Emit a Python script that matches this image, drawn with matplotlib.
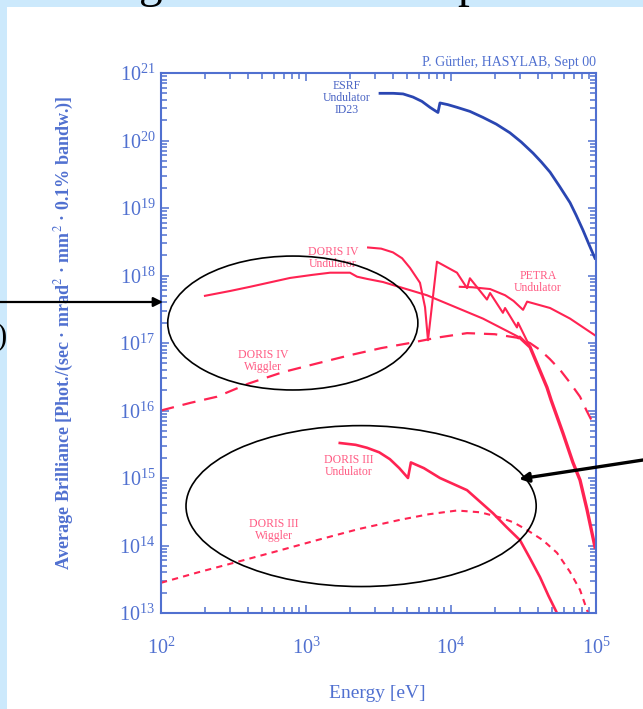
import numpy as np
import matplotlib
matplotlib.use("Agg")
import matplotlib.pyplot as plt
from matplotlib.patches import Ellipse, Rectangle
from matplotlib.ticker import LogLocator, LogFormatterMathtext, NullFormatter

# values (energy in eV, brilliance)
esrf_e = [3240, 4000, 4670, 5470, 6300, 7160, 7700, 8130, 8390, 9500, 11000, 13500, 16600,
          20500, 25500, 30500, 36800, 42000, 48200, 56000, 66200, 73000, 81300, 90000, 98400]
esrf_b = [5.0e20, 5.0e20, 4.9e20, 4.4e20, 3.8e20, 3.1e20, 2.8e20, 2.6e20, 3.6e20, 3.4e20, 3.1e20,
          2.7e20, 2.2e20, 1.75e20, 1.3e20, 9.5e19, 6.5e19, 4.8e19, 3.4e19, 2.1e19, 1.2e19,
          7.8e18, 4.7e18, 2.8e18, 1.8e18]

d4u_e = [201, 300, 411, 776, 1100, 1466, 2010, 2250, 2640, 3400, 6820, 16600, 29900]
d4u_b = [5.0e17, 5.9e17, 6.8e17, 9.2e17, 1.02e18, 1.1e18, 1.1e18, 9.6e17, 8.9e17, 8.0e17,
         5.1e17, 2.3e17, 1.2e17]

d4u_tail_e = [29900, 35100, 45900, 49000, 59200, 69300, 77600, 86700, 98400]
d4u_tail_b = [1.2e17, 8.7e16, 2.2e16, 1.43e16, 4.6e15, 1.7e15, 9.3e14, 3.4e14, 9.5e13]

d4h_e = [2680, 3300, 3980, 4600, 5210, 6110, 6620, 6940, 8000, 11000, 12900, 13500, 17700,
         18600, 22800, 23600, 28500, 29000, 35100]
d4h_b = [2.6e18, 2.5e18, 2.2e18, 1.8e18, 1.3e18, 7.8e17, 3.4e17, 1.1e17, 1.6e18, 1.1e18,
         6.5e17, 9.1e17, 4.4e17, 5.5e17, 2.8e17, 3.3e17, 1.7e17, 2.0e17, 8.7e16]

petra_e = [11500, 14000, 18600, 23600, 27000, 31400, 33500, 48200, 66200, 98400]
petra_b = [6.8e17, 6.7e17, 6.3e17, 5.1e17, 4.2e17, 3.1e17, 4.1e17, 3.3e17, 2.3e17, 1.3e17]

d4w_e = [100, 160, 243, 400, 693, 1200, 2010, 3300, 5210, 8000, 12900, 20000, 28500, 35000,
         41100, 48000, 56500, 66000, 77600, 86000, 95300]
d4w_b = [1.0e16, 1.3e16, 1.6e16, 2.5e16, 3.7e16, 5.0e16, 6.6e16, 8.4e16, 1.0e17, 1.2e17,
         1.4e17, 1.35e17, 1.2e17, 1.0e17, 7.9e16, 5.8e16, 4.0e16, 2.6e16, 1.6e16, 1.0e16, 6.5e15]

d3u_e = [1710, 2200, 2640, 3200, 3790, 4400, 5050, 5290, 6500, 8390, 12900, 19500, 24000,
         29900, 35000, 41100, 47000, 53800]
d3u_b = [3.3e15, 3.1e15, 2.8e15, 2.4e15, 1.9e15, 1.4e15, 1.0e15, 1.7e15, 1.4e15, 1.0e15,
         6.6e14, 3.0e14, 1.9e14, 1.2e14, 6.5e13, 3.4e13, 1.8e13, 1.0e13]

d3w_e = [100, 180, 314, 600, 1190, 2300, 4450, 7000, 11000, 16000, 21800, 27000, 33400,
         43000, 53800, 66000, 77600, 88100]
d3w_b = [2.8e13, 4.0e13, 5.5e13, 8.0e13, 1.2e14, 1.75e14, 2.4e14, 2.9e14, 3.3e14, 3.1e14,
         2.6e14, 2.2e14, 1.7e14, 1.2e14, 7.8e13, 4.1e13, 2.2e13, 1.0e13]

labels = ["ESRF\nUndulator\nID23", "DORIS IV\nUndulator", "PETRA\nUndulator",
          "DORIS IV\nWiggler", "DORIS III\nUndulator", "DORIS III\nWiggler"]
label_e = [1920, 1535, 39800, 505, 1980, 601]
label_b = [4.3e20, 1.8e18, 8.0e17, 5.4e16, 1.5e15, 1.7e14]

BLUE = "#2a46b2"
AXBLUE = "#5070d0"
RED = "#ff2352"
PINK = "#ff5c84"

plt.rcParams['font.family'] = ['Liberation Serif', 'DejaVu Serif']
plt.rcParams['mathtext.fontset'] = 'stix'

W, H = 643, 709
fig = plt.figure(figsize=(W / 100, H / 100), dpi=100)
fig.patch.set_facecolor("#cce9fc")
fig.patches.append(Rectangle((7 / W, 0), 1, (H - 7) / H, transform=fig.transFigure,
                             facecolor="white", edgecolor="none", zorder=-10))

# bits of slide text cut off by the crop
fig.text(151 / W, 1 + 3 / H, "g", fontsize=34, ha="center", va="baseline", color="black")
fig.text(469 / W, 1 + 3 / H, "p", fontsize=34, ha="center", va="baseline", color="black")
fig.text(8 / W, 1 - 337 / H, "0)", fontsize=22, ha="right", va="center", color="black")

ax = fig.add_axes([161 / W, (H - 613) / H, 435 / W, 540 / H])
ax.set_zorder(1)
ax.set_facecolor("none")
ax.set_xscale("log")
ax.set_yscale("log")
ax.set_xlim(100, 1e5)
ax.set_ylim(1e13, 1e21)

ax.plot(esrf_e, esrf_b, color=BLUE, lw=2.0)
ax.plot(d4u_e, d4u_b, color=RED, lw=1.5)
ax.plot(d4u_tail_e, d4u_tail_b, color=RED, lw=2.4)
ax.plot(d4h_e, d4h_b, color=RED, lw=1.5)
ax.plot(petra_e, petra_b, color=RED, lw=1.5)
ax.plot(d4w_e, d4w_b, color=RED, lw=1.6, dashes=(6, 4))
ax.plot(d3u_e, d3u_b, color=RED, lw=1.9)
ax.plot(d3w_e, d3w_b, color=RED, lw=1.5, dashes=(3, 2.5))

for i, txt in enumerate(labels):
    c = "#4a64c4" if i == 0 else PINK
    ax.text(label_e[i], label_b[i], txt, fontsize=8.5, color=c, ha="center",
            va="center", linespacing=1.0)

ax.text(1.0, 1.008, "P. Gürtler, HASYLAB, Sept 00", transform=ax.transAxes,
        fontsize=10, color=AXBLUE, ha="right", va="bottom")

for s in ax.spines.values():
    s.set_color(AXBLUE)
    s.set_linewidth(1.5)

ax.xaxis.set_major_locator(LogLocator(base=10, numticks=10))
ax.yaxis.set_major_locator(LogLocator(base=10, numticks=12))
ax.xaxis.set_minor_locator(LogLocator(base=10, subs=np.arange(2, 10), numticks=12))
ax.yaxis.set_minor_locator(LogLocator(base=10, subs=np.arange(2, 10), numticks=12))
ax.xaxis.set_major_formatter(LogFormatterMathtext())
ax.yaxis.set_major_formatter(LogFormatterMathtext())
ax.xaxis.set_minor_formatter(NullFormatter())
ax.yaxis.set_minor_formatter(NullFormatter())
ax.tick_params(which="both", direction="in", top=True, right=True, color=AXBLUE,
               labelcolor=AXBLUE, width=1.1)
ax.tick_params(which="major", length=6, labelsize=14.5)
ax.tick_params(axis="x", which="major", pad=18)
ax.tick_params(axis="y", which="major", pad=4)
ax.tick_params(which="minor", length=4)

ax.set_xlabel("Energy [eV]", fontsize=14, color=AXBLUE)
ax.xaxis.set_label_coords(0.498, -0.134)
ax.set_ylabel("Average Brilliance [Phot./(sec · mrad$^2$ · mm$^2$ · 0.1% bandw.)]",
              fontsize=13, color=AXBLUE, fontweight="bold")
ax.yaxis.set_label_coords(-0.196, 0.519)

# hand-drawn annotations on the slide
ax.add_patch(Ellipse((0.303, 0.537), 0.575, 0.248, transform=ax.transAxes,
                     fill=False, edgecolor="black", lw=1.2, clip_on=False, zorder=5))
ax.add_patch(Ellipse((0.460, 0.198), 0.805, 0.298, transform=ax.transAxes,
                     fill=False, edgecolor="black", lw=1.2, clip_on=False, zorder=5))
ax.annotate("", xy=(163, H - 302), xycoords="figure pixels",
            xytext=(0, H - 302), textcoords="figure pixels", annotation_clip=False,
            arrowprops=dict(arrowstyle="-|>", color="black", lw=1.6,
                            mutation_scale=14, shrinkA=0, shrinkB=0))
ax.annotate("", xy=(519, H - 479), xycoords="figure pixels",
            xytext=(643, H - 460), textcoords="figure pixels", annotation_clip=False,
            arrowprops=dict(arrowstyle="-|>", color="black", lw=2.4,
                            mutation_scale=14, shrinkA=0, shrinkB=0))

fig.savefig("out.png", dpi=100, facecolor=fig.get_facecolor())
